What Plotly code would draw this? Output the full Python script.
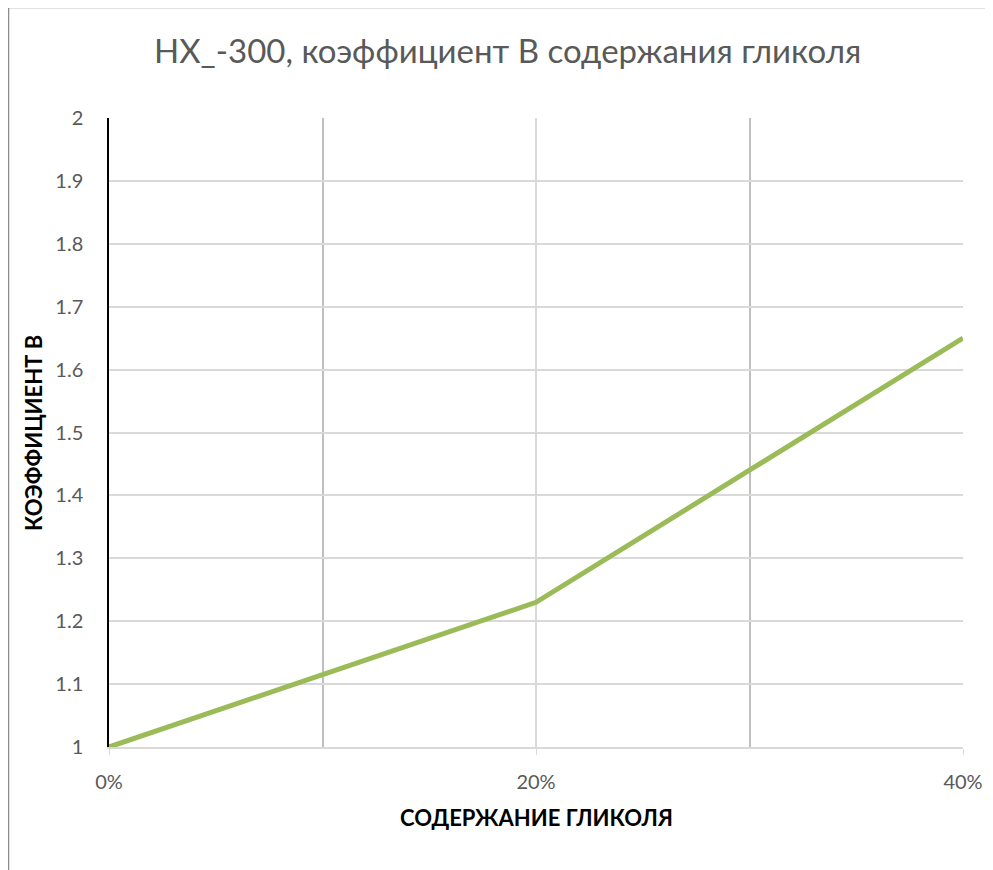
import plotly.graph_objects as go

# Data
glycol_share = [0.0, 0.10, 0.20, 0.30, 0.40]
coef_b = [1.0, 1.115, 1.23, 1.44, 1.65]
x_tick_vals = [0.0, 0.2, 0.4]
x_tick_text = ["0%", "20%", "40%"]

title_text = "HX_-300, коэффициент В содержания гликоля"
y_title = "КОЭФФИЦИЕНТ В"
x_title = "СОДЕРЖАНИЕ ГЛИКОЛЯ"

OFF = 8  # page body margin
W, H = 993, 870
# target pixel positions in the screenshot
PL, PR, PT, PB = 109, 963, 118, 747
L = PL - OFF
T = PT - OFF
R = W - (PR - OFF)
B = H - (PB - OFF)
pw, ph = PR - PL, PB - PT

def px_x(p):
    return (p - PL) / pw

def px_y(p):
    return (PB - p) / ph

FONT = "Lato, 'Open Sans', sans-serif"

fig = go.Figure()
fig.add_trace(go.Scatter(
    x=glycol_share, y=coef_b, mode="lines",
    line=dict(color="#9bbb59", width=5),
    showlegend=False, hoverinfo="skip",
))

fig.update_layout(
    width=W, height=H,
    margin=dict(l=L, r=R, t=T, b=B),
    paper_bgcolor="white", plot_bgcolor="white",
    font=dict(family=FONT, color="#595959", size=20),
    xaxis=dict(
        range=[0, 0.4],
        tickvals=x_tick_vals, ticktext=x_tick_text,
        showgrid=True, gridcolor="#d9d9d9", gridwidth=1.5,
        minor=dict(tickvals=[0.1, 0.3], showgrid=True, gridcolor="#bfbfbf", gridwidth=1.5, ticks=""),
        showline=True, linecolor="#d9d9d9", linewidth=1.5,
        ticks="outside", ticklen=6, tickcolor="#d9d9d9",
        ticklabelstandoff=10,
        zeroline=False,
        tickfont=dict(size=20, color="#595959"),
    ),
    yaxis=dict(
        range=[1, 2], dtick=0.1, tick0=1,
        showgrid=True, gridcolor="#d9d9d9", gridwidth=1.5,
        showline=True, linecolor="#000000", linewidth=1.5,
        ticks="", ticklabelstandoff=20,
        zeroline=False,
        tickfont=dict(size=20, color="#595959"),
    ),
    annotations=[
        dict(text=title_text, x=px_x(507), y=px_y(50), xref="paper", yref="paper",
             showarrow=False, xanchor="center", yanchor="middle",
             font=dict(size=33, color="#595959", family=FONT)),
        dict(text="<b>" + y_title + "</b>", x=px_x(33), y=px_y(433), xref="paper", yref="paper",
             showarrow=False, xanchor="center", yanchor="middle", textangle=-90,
             font=dict(size=22, color="#000000", family=FONT)),
        dict(text="<b>" + x_title + "</b>", x=px_x(536), y=px_y(818), xref="paper", yref="paper",
             showarrow=False, xanchor="center", yanchor="middle",
             font=dict(size=22, color="#000000", family=FONT)),
    ],
    shapes=[
        dict(type="line", xref="paper", yref="paper",
             x0=px_x(8.5), x1=px_x(W + 20), y0=px_y(7.5), y1=px_y(7.5),
             line=dict(color="#8c8c8c", width=1.5)),
        dict(type="line", xref="paper", yref="paper",
             x0=px_x(8.5), x1=px_x(8.5), y0=px_y(7.5), y1=px_y(H + 20),
             line=dict(color="#8c8c8c", width=1.5)),
    ],
)

fig.write_html("out.html")
